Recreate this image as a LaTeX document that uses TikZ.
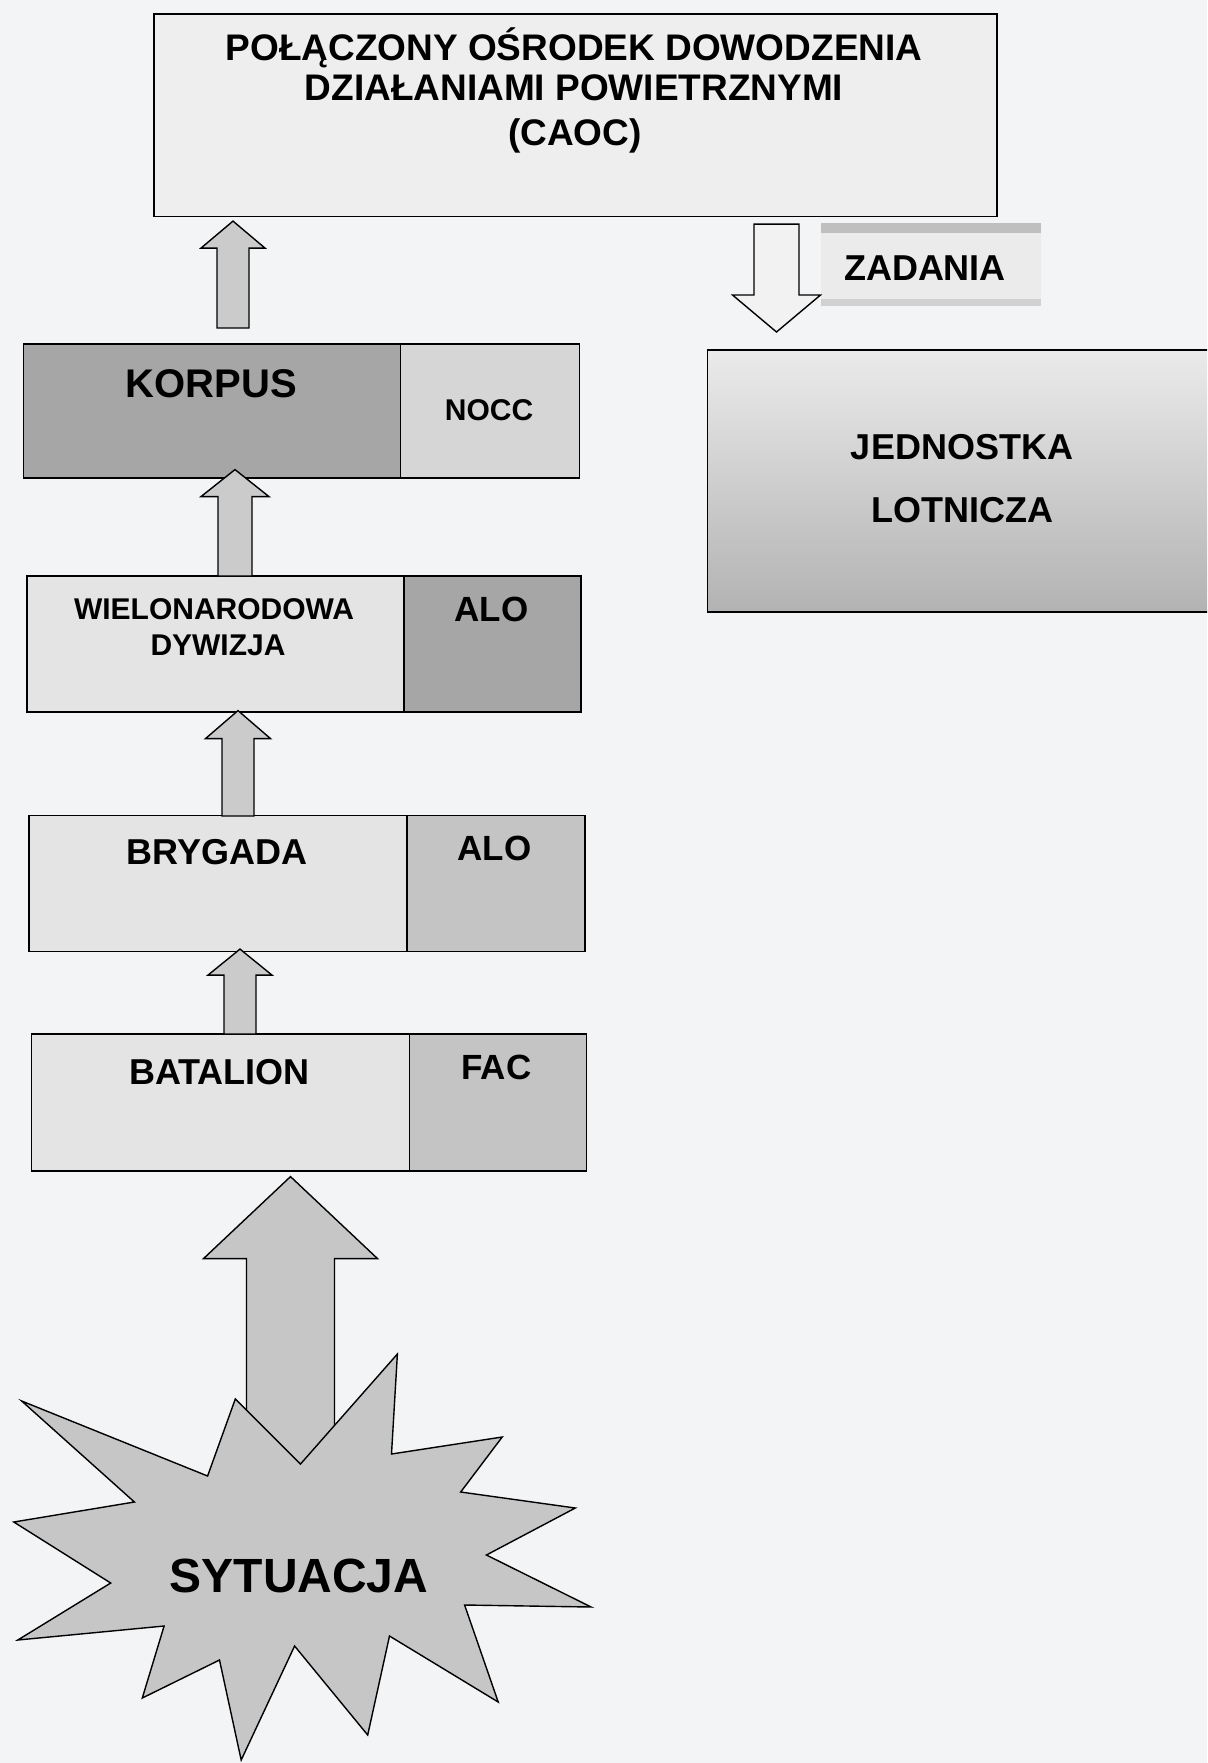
\documentclass[tikz,border=0pt]{standalone}
\usepackage{fontspec}
\setmainfont{Liberation Sans}
\usetikzlibrary{calc}

\definecolor{paper}{HTML}{F3F4F6}
\definecolor{lightbox}{HTML}{E4E4E5}
\definecolor{caocbox}{HTML}{EEEEEF}
\definecolor{darkbox}{HTML}{A6A6A6}
\definecolor{midbox}{HTML}{C4C4C4}
\definecolor{noccgray}{HTML}{D6D6D6}
\definecolor{arrowgray}{HTML}{CBCBCB}
\definecolor{stargray}{HTML}{C6C6C6}

\tikzset{
  box/.style={draw, line width=1.6pt, anchor=north west, inner sep=0pt},
  lbl/.style={inner sep=0pt, anchor=base, font=\bfseries\fontsize{#1}{#1}\selectfont},
  blk/.style={draw, line width=1.4pt, line join=miter, fill=#1},
}

% block arrow: style, tail, tip, shaft half width, head half width, head length
\newcommand{\blockarr}[6]{%
  \filldraw[blk=#1] ($(#2)+(-#4,0)$) -- ($(#3)+(-#4,#6)$) -- ($(#3)+(-#5,#6)$) -- (#3)
    -- ($(#3)+(#5,#6)$) -- ($(#3)+(#4,#6)$) -- ($(#2)+(#4,0)$) -- cycle;}

\begin{document}
\begin{tikzpicture}[x=1pt, y=-1pt]
    \useasboundingbox (0,0) rectangle (1207,1763);
    \clip (0,0) rectangle (1207,1763);
    \fill[paper] (0,0) rectangle (1207,1763);

    % boxes
    \node[box, fill=caocbox,  minimum width=843pt, minimum height=202pt] (caoc) at (153,13.5) {};
    \node[box, fill=darkbox,  minimum width=377pt, minimum height=134pt] (korpusL) at (22.5,343) {};
    \node[box, fill=noccgray, minimum width=179pt, minimum height=134pt] (korpusR) at (399.5,343) {};
    \node[box, fill=lightbox, minimum width=377pt, minimum height=136pt] (wielL) at (26,575) {};
    \node[box, fill=darkbox,  minimum width=177pt, minimum height=136pt] (wielR) at (403,575) {};
    \node[box, fill=lightbox, minimum width=378pt, minimum height=136pt] (brygL) at (28,814.5) {};
    \node[box, fill=midbox,   minimum width=178pt, minimum height=136pt] (brygR) at (406,814.5) {};
    \node[box, fill=lightbox, minimum width=378pt, minimum height=137pt] (batL) at (30.5,1033) {};
    \node[box, fill=midbox,   minimum width=177pt, minimum height=137pt] (batR) at (408.5,1033) {};
    \node[box, top color=white!92!black, bottom color=black!30, minimum width=520pt, minimum height=262pt] (jedn) at (706.5,349) {};
    \node[anchor=north west, inner sep=0pt, fill=white!92!black, minimum width=220pt, minimum height=83pt] (zad) at (821,223) {};
    \fill[black!25] (zad.north west) rectangle ++(220,10);
    \fill[black!18] (zad.south west) rectangle ++(220,-7);

    % texts
    \node[lbl=37] (caoc1) at (574,61) {POŁĄCZONY OŚRODEK DOWODZENIA};
    \node[lbl=37] (caoc2) at (574,101) {DZIAŁANIAMI POWIETRZNYMI};
    \node[lbl=37] (caoc3) at (575,146) {(CAOC)};
    \node[lbl=40] (korpus) at (211.5,397) {KORPUS};
    \node[lbl=30] (nocc) at (489,420) {NOCC};
    \node[lbl=30] (wiel1) at (214,619.5) {WIELONARODOWA};
    \node[lbl=30] (wiel2) at (218,655.5) {DYWIZJA};
    \node[lbl=35] (alo1) at (491.5,621) {ALO};
    \node[lbl=36] (bryg) at (217,864.5) {BRYGADA};
    \node[lbl=35] (alo2) at (494.5,860.5) {ALO};
    \node[lbl=36] (bat) at (219.5,1084) {BATALION};
    \node[lbl=35] (fac) at (496.5,1079) {FAC};
    \node[lbl=36] (zadania) at (925,280.5) {ZADANIA};
    \node[lbl=36] (jedn1) at (962,459.5) {JEDNOSTKA};
    \node[lbl=36] (jedn2) at (962,522.5) {LOTNICZA};

    % arrows between levels
    \coordinate (a1s) at ($(korpusL.north west)+(210.5,-15)$);
    \path (a1s |- caoc.south) ++(0,4) coordinate (a1e);
    \coordinate (a2s) at ($(wielL.north west)+(209,1)$);
    \path (a2s |- korpusL.south) ++(0,-9) coordinate (a2e);
    \coordinate (a3s) at ($(brygL.north west)+(210,1.5)$);
    \path (a3s |- wielL.south) ++(0,-2) coordinate (a3e);
    \coordinate (a4s) at ($(batL.north west)+(209.5,1)$);
    \path (a4s |- brygL.south) ++(0,-3) coordinate (a4e);
    \blockarr{arrowgray}{a1s}{a1e}{16}{32}{27}
    \blockarr{arrowgray}{a2s}{a2e}{17}{34}{27}
    \blockarr{arrowgray}{a3s}{a3e}{16}{32.5}{28}
    \blockarr{arrowgray}{a4s}{a4e}{16}{32}{26}

    % down arrow to the air unit
    \coordinate (dns) at ($(caoc.south west)+(623.5,7)$);
    \path (dns |- jedn.north) ++(0,-17) coordinate (dne);
    \blockarr{white!95!black}{dns}{dne}{22.5}{44}{-37}

    % situation
    \coordinate (sits) at (290.5,1500);
    \path (sits |- batL.south) ++(0,5) coordinate (site);
    \blockarr{stargray}{sits}{site}{44}{87}{82}
    \filldraw[blk=stargray] (21.7,1401) -- (207.6,1476) -- (235.3,1399) -- (300.5,1464)
      -- (397.4,1354) -- (391.5,1454) -- (502.2,1437) -- (460.7,1492) -- (575.3,1508)
      -- (486.4,1555) -- (591.1,1607) -- (464.6,1605) -- (498.2,1702) -- (389.5,1636)
      -- (367.7,1735) -- (294.6,1646) -- (241.2,1760) -- (219.5,1660) -- (142.3,1698)
      -- (164.1,1626) -- (17.8,1640) -- (110.7,1583) -- (13.8,1522) -- (134.4,1502) -- cycle;
    \node[lbl=48] (sytuacja) at (299,1592) {SYTUACJA};
\end{tikzpicture}
\end{document}
